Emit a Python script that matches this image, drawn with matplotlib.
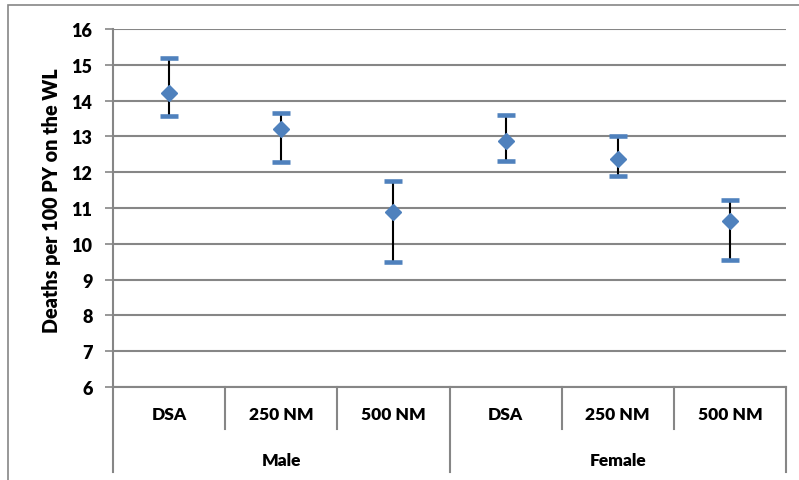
import matplotlib
matplotlib.use("Agg")
import matplotlib.pyplot as plt
from matplotlib.patches import Rectangle
import numpy as np

# Data: death rates on the waiting list with 95% intervals
groups = ["Male", "Female"]
categories = ["DSA", "250 NM", "500 NM", "DSA", "250 NM", "500 NM"]
rate = [14.20, 13.20, 10.88, 12.86, 12.38, 10.64]
lower = [13.57, 12.29, 9.50, 12.31, 11.90, 9.56]
upper = [15.18, 13.66, 11.75, 13.60, 13.01, 11.22]
y_ticks = [6, 7, 8, 9, 10, 11, 12, 13, 14, 15, 16]
y_label = "Deaths per 100 PY on the WL"

BLUE = "#4F81BD"
GRID = "#868686"
FONT = "Lato"
WEIGHT = "heavy"

W, H = 799, 481
fig = plt.figure(figsize=(W / 100, H / 100), dpi=100)

# outer chart frame
fig.patches.append(Rectangle((8 / W, -0.1), 1.2, (H - 6) / H + 0.1,
                             transform=fig.transFigure, fill=False,
                             edgecolor=GRID, linewidth=1.2))

left, right, top, bottom = 113, 786, 30, 388
ax = fig.add_axes([left / W, (H - bottom) / H, (right - left) / W, (bottom - top) / H])

x = np.arange(len(categories))
rate_a = np.array(rate)
yerr = np.vstack([rate_a - np.array(lower), np.array(upper) - rate_a])

eb = ax.errorbar(x, rate, yerr=yerr, fmt="none", ecolor="black", elinewidth=1.5,
                 capsize=6.5, capthick=3.3, zorder=3)
for cap in eb[1]:
    cap.set_color(BLUE)
    cap.set_markeredgecolor(BLUE)
    cap.set_markerfacecolor(BLUE)
ax.plot(x, rate, linestyle="none", marker="D", markersize=8.2, color=BLUE,
        markeredgecolor=BLUE, zorder=4)

ax.set_xlim(-0.5, len(categories) - 0.5)
ax.set_ylim(y_ticks[0], y_ticks[-1])
ax.set_yticks(y_ticks)
ax.set_yticklabels([str(t) for t in y_ticks], fontfamily=FONT, fontweight=WEIGHT,
                   fontsize=13)
ax.set_xticks([])
ax.tick_params(axis="y", length=5.8, width=1.2, color=GRID, pad=9)
ax.yaxis.grid(True, color=GRID, linewidth=1.5)
ax.set_axisbelow(True)
for s in ["top", "right"]:
    ax.spines[s].set_visible(False)
ax.spines["left"].set_color(GRID)
ax.spines["left"].set_linewidth(1.5)
ax.spines["bottom"].set_color(GRID)
ax.spines["bottom"].set_linewidth(1.5)

fig.text(52 / W, 1 - 201 / H, y_label, rotation=90, ha="center", va="center",
         fontfamily=FONT, fontweight=WEIGHT, fontsize=14.2)

# two-level category axis below the plot
ph = bottom - top
tr = ax.get_xaxis_transform()
sub_y = -(430 - bottom) / ph
grp_y = -(473 - bottom) / ph
n = len(categories)
per = n // len(groups)
for b in range(n + 1):
    xb = b - 0.5
    yb = grp_y if b % per == 0 else sub_y
    ax.plot([xb, xb], [0, yb], transform=tr, color=GRID, linewidth=1.5,
            clip_on=False)
for i, c in enumerate(categories):
    ax.text(i, -(415 - bottom) / ph, c, transform=tr, ha="center", va="center",
            fontfamily=FONT, fontweight=WEIGHT, fontsize=12.5)
for g, name in enumerate(groups):
    ax.text(g * per + (per - 1) / 2, -(461 - bottom) / ph, name, transform=tr,
            ha="center", va="center", fontfamily=FONT, fontweight=WEIGHT,
            fontsize=12.5)

fig.savefig("out.png", dpi=100)
